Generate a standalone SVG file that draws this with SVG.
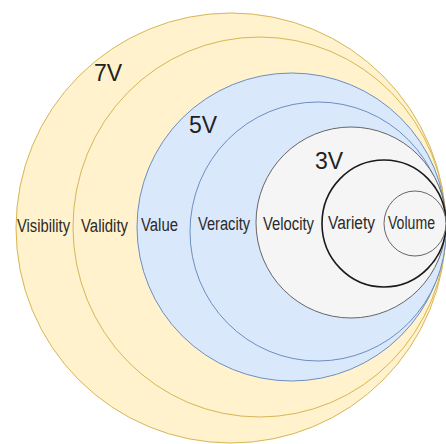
<svg xmlns="http://www.w3.org/2000/svg" width="446" height="444" viewBox="0 0 446 444">
<style>
.y{fill:#fff2cc;stroke:#d6b656;stroke-width:1}
.b{fill:#dae8fc;stroke:#6c8ebf;stroke-width:1}
.g{fill:#f5f5f5;stroke:#666666;stroke-width:1}
.k{fill:#f5f5f5;stroke:#1a1a1a;stroke-width:1.6}
.t{font-family:"Liberation Sans",Arial,sans-serif;font-size:18px;fill:#2a2a2a}
.h{font-family:"Liberation Sans",Arial,sans-serif;font-size:23px;fill:#222222;text-anchor:middle}
</style>
<rect width="446" height="444" fill="#ffffff"/>
<g id="visibility"><ellipse class="y" cx="231" cy="228" rx="215" ry="215"/><text class="t" x="17" y="231.5" textLength="53" lengthAdjust="spacingAndGlyphs">Visibility</text></g>
<g id="validity"><ellipse class="y" cx="259.5" cy="227" rx="186.5" ry="190"/><text class="t" x="81" y="231.5" textLength="47" lengthAdjust="spacingAndGlyphs">Validity</text></g>
<g id="value"><ellipse class="b" cx="291.5" cy="227" rx="154.5" ry="154"/><text class="t" x="141" y="230.5" textLength="37" lengthAdjust="spacingAndGlyphs">Value</text></g>
<g id="veracity"><ellipse class="b" cx="318" cy="231.5" rx="128" ry="129.5"/><text class="t" x="198" y="230" textLength="52" lengthAdjust="spacingAndGlyphs">Veracity</text></g>
<g id="velocity"><ellipse class="g" cx="351" cy="222.5" rx="95" ry="95.5"/><text class="t" x="263" y="229.5" textLength="51" lengthAdjust="spacingAndGlyphs">Velocity</text></g>
<g id="variety"><ellipse class="k" cx="384" cy="223.5" rx="62" ry="63.5"/><text class="t" x="328" y="229" textLength="47" lengthAdjust="spacingAndGlyphs">Variety</text></g>
<g id="volume"><ellipse class="g" cx="415" cy="223.5" rx="31" ry="32.5"/><text class="t" x="388" y="228.5" textLength="47" lengthAdjust="spacingAndGlyphs">Volume</text></g>
<g id="labels">
<text class="h" x="108" y="81">7V</text>
<text class="h" x="203" y="132.5">5V</text>
<text class="h" x="329" y="168.5">3V</text>
</g>
<g id="connectors"/>
</svg>
